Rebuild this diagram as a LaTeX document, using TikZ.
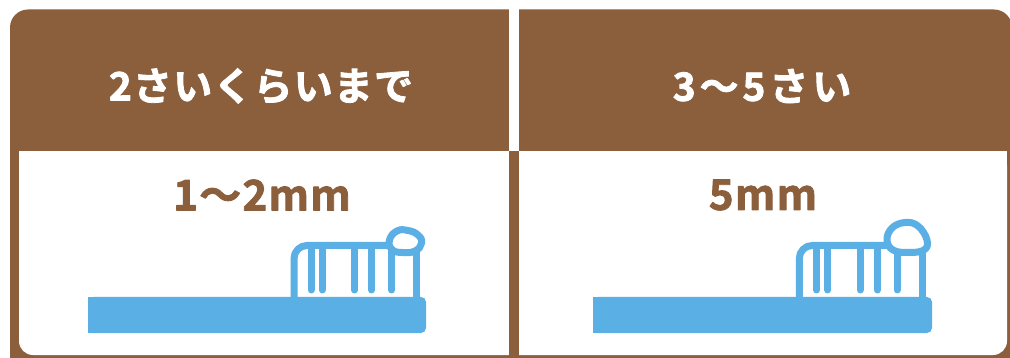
\documentclass[tikz,border=0pt]{standalone}
\usepackage{fontspec}
\newfontfamily\jpfont{Noto Sans CJK JP Bold}[LetterSpace=3,FakeBold=2]
\newfontfamily\jpwide{Noto Sans CJK JP Bold}[LetterSpace=10,FakeBold=2]
\definecolor{brownc}{HTML}{8B5E3C}
\definecolor{bluec}{HTML}{5AAFE4}
\tikzset{
  headtext/.style={font=\jpfont\fontsize{39}{39}\selectfont,text=white,inner sep=0pt,anchor=center},
  headwide/.style={font=\jpwide\fontsize{39}{39}\selectfont,text=white,inner sep=0pt,anchor=center},
  sizetext/.style={font=\jpfont\fontsize{42}{42}\selectfont,text=brownc,inner sep=0pt,anchor=center},
  brushline/.style={draw=bluec,line width=7pt,line cap=round,line join=round},
  brushhandle/.style={fill=bluec,draw=none}
}
\begin{document}
\begin{tikzpicture}[x=1pt,y=-1pt,line join=round]
\useasboundingbox (0,0) rectangle (1010,358);
\fill[white] (0,0) rectangle (1010,358);
% panel
\fill[brownc,rounded corners=18pt] (10,9.5) rectangle (1012,375);
\fill[white,rounded corners=14pt] (19,151) -- (19,355) -- (1007,355) -- (1007,151) -- cycle;
\fill[brownc] (10,29.5) rectangle (1012,151);
\fill[white] (509,9.5) rectangle (519,151);
\fill[brownc] (509,151) rectangle (519,358);
\fill[white] (19,151) rectangle (509,200);
\fill[white] (519,151) rectangle (1007,200);
% header text
\node[headtext] (h1) at (261,86) {2さいくらいまで};
\node[headwide] (h2) at (762,86) {3〜5さい};
\node[sizetext] (s1) at (262,195) {1〜2mm};
\node[sizetext] (s2) at (763,195) {5mm};
% brush 1
\path[brushhandle,rounded corners=5pt] (88,297) -- (426,297) -- (426,333) -- (88,333) -- cycle;
\fill[bluec] (88,297) rectangle (100,333);
\draw[brushline,line cap=butt,rounded corners=13pt] (294,297) -- (294,245.5) -- (390,245.5);
\draw[brushline,line cap=butt] (416,250) -- (416,297);
\foreach \x in {311,322,354.5,371.5,391.5}
  \draw[brushline] (\x,247) -- (\x,290);
\draw[brushline,fill=white] plot[smooth cycle,tension=0.8] coordinates {(389.5,240) (397,231) (408,230.5) (418,235) (421.5,243) (415,251) (402,252.5) (392,249.5)};
% brush 2
\path[brushhandle,rounded corners=5pt] (593,297) -- (932,297) -- (932,333) -- (593,333) -- cycle;
\fill[bluec] (593,297) rectangle (605,333);
\draw[brushline,line cap=butt,rounded corners=13pt] (799.3,297) -- (799.3,245.5) -- (888,245.5);
\draw[brushline,line cap=butt] (922,250) -- (922,297);
\foreach \x in {816.7,827.7,860,877.3,897}
  \draw[brushline] (\x,247) -- (\x,290);
\draw[brushline,fill=white] plot[smooth cycle,tension=0.7] coordinates {(887,240) (892,228) (905,222.5) (918,226) (927,240) (924,250) (908,252.5) (893,250)};
\end{tikzpicture}
\end{document}
